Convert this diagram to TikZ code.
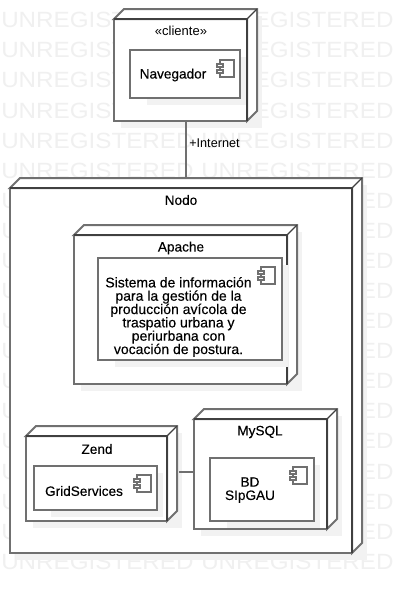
\documentclass[tikz,border=0pt]{standalone}
\usepackage{fontspec}
\setmainfont{Liberation Sans}
\newfontfamily\heavyfont[FakeBold=0.25]{Liberation Sans}
\usetikzlibrary{positioning,calc}
\definecolor{edgegray}{RGB}{112,112,112}
\definecolor{edgedark}{RGB}{64,64,64}
\definecolor{markgray}{RGB}{240,240,240}
\definecolor{dropgray}{RGB}{242,242,242}
\newcommand{\wmark}{\makebox[150pt][l]{\scalebox{1.1}[1]{UNREGISTERED}}}
\newcommand{\wrow}{\wmark\wmark}
\tikzset{
  wmrow/.style={anchor=west,inner sep=0pt,text=markgray,font=\fontsize{16.5}{16.5}\selectfont},
  front/.style={draw=edgegray,line width=1.5pt,fill=white,anchor=north west,inner sep=0pt,outer sep=0pt},
  comp/.style={front},
  side/.style={draw=edgegray,line width=1.5pt,fill=white,line join=miter},
  hard/.style={draw=edgedark,line width=1.5pt},
  lbl/.style={inner sep=0pt,font=\heavyfont\fontsize{10.2}{10}\selectfont,text=black,align=center},
  link/.style={draw=edgegray,line width=1.5pt},
  icon/.style={draw=edgegray,line width=1pt,fill=white},
  drop/.style={fill=dropgray,draw=none}
}
% name, x, y, width, height of the front face
\newcommand{\cube}[5]{
  \fill[drop] (#2+7,#3-3) rectangle ++(#4+8,#5+10);
  \node[front,minimum width=#4*0.75pt,minimum height=#5*0.75pt] (#1) at (#2,#3) {};
  \draw[side] (#1.north west) -- ++(10,-10) -- ($(#1.north east)+(10,-10)$) -- ($(#1.south east)+(10,-10)$) -- (#1.south east) -- (#1.north east) -- cycle;
  \draw[hard] (#1.north west) -- (#1.north east) -- (#1.south east);
  \draw[line width=1pt,edgedark] (#1.north east) -- ++(10,-10);
}
% name, x, y, width, height, icon x, icon y
\newcommand{\compbox}[7]{
  \fill[drop] (#2+17,#3+7) rectangle ++(#4-11,#5);
  \node[comp,minimum width=#4*0.75pt,minimum height=#5*0.75pt] (#1) at (#2,#3) {};
  \draw[icon] (#6,#7) rectangle ++(14,17);
  \draw[icon] (#6-3,#7+4) rectangle ++(6,3);
  \draw[icon] (#6-3,#7+10) rectangle ++(6,3);
}
\begin{document}
\begin{tikzpicture}[x=0.75pt,y=-0.75pt]
\useasboundingbox (0,0) rectangle (402,594);
\fill[white] (0,0) rectangle (402,594);
\node[wmrow] (row1) at (1,20) {\wrow};
\node[wmrow] (row2) at (1,50) {\wrow};
\node[wmrow] (row3) at (1,80) {\wrow};
\node[wmrow] (row4) at (1,111) {\wrow};
\node[wmrow] (row5) at (1,141) {\wrow};
\node[wmrow] (row6) at (1,171) {\wrow};
\node[wmrow] (row7) at (1,201) {\wrow};
\node[wmrow] (row8) at (1,231) {\wrow};
\node[wmrow] (row9) at (1,261) {\wrow};
\node[wmrow] (row10) at (1,291) {\wrow};
\node[wmrow] (row11) at (1,321) {\wrow};
\node[wmrow] (row12) at (1,351) {\wrow};
\node[wmrow] (row13) at (1,381) {\wrow};
\node[wmrow] (row14) at (1,411) {\wrow};
\node[wmrow] (row15) at (1,441) {\wrow};
\node[wmrow] (row16) at (1,472) {\wrow};
\node[wmrow] (row17) at (1,502) {\wrow};
\node[wmrow] (row18) at (1,532) {\wrow};
\node[wmrow] (row19) at (1,562) {\wrow};

\cube{cliente}{114}{19}{133}{102}
\node[lbl,font=\fontsize{9.75}{10}\selectfont] (clientelabel) at (181,31) {«cliente»};
\compbox{navegador}{130}{50}{110}{48}{220}{60}
\node[lbl] (navegadorlabel) at (173,75) {Navegador};

\cube{nodo}{10}{188}{342}{365}
\node[lbl] (nodolabel) at (181,200) {Nodo};

\cube{apache}{74}{235}{213}{149}
\node[lbl] (apachelabel) at (181,248) {Apache};
\compbox{sistema}{98}{258}{184}{102}{261}{267}
\node[lbl,font=\heavyfont\fontsize{10.5}{10}\selectfont] (sistemalabel) at (178.5,317) {Sistema de información\\para la gestión de la\\producción avícola de\\traspatio urbana y\\periurbana con\\vocación de postura.};

\cube{zend}{26}{436}{141}{85}
\node[lbl] (zendlabel) at (97,449) {Zend};
\compbox{grid}{34}{466}{123}{44}{137}{475}
\node[lbl] (gridlabel) at (84,491) {GridServices};

\cube{mysql}{194}{419}{133}{110}
\node[lbl] (mysqllabel) at (260,432) {MySQL};
\compbox{bd}{210}{458}{104}{63}{293}{467}
\node[lbl] (bdlabel) at (250,490) {BD\\SIpGAU};

\coordinate (linkx) at (186,0);
\draw[link] (linkx |- cliente.south) -- ($(linkx |- nodo.north)+(0,-10)$);
\node[lbl,font=\fontsize{9.5}{10}\selectfont,anchor=west] (internetlabel) at (189,143) {+Internet};
\coordinate (zendside) at (179,472);
\draw[link] (zendside) -- (zendside -| mysql.west);
\end{tikzpicture}
\end{document}
